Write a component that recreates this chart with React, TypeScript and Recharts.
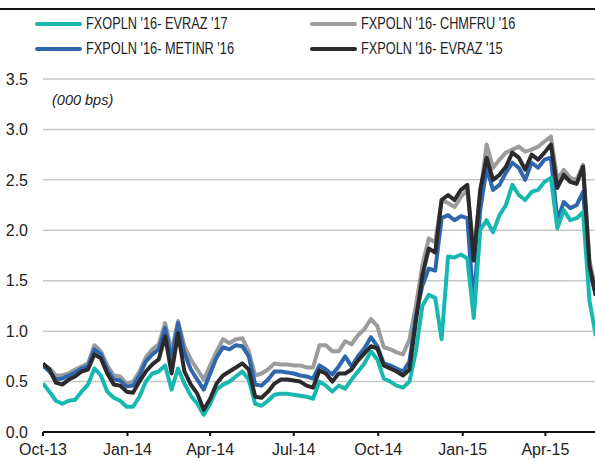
import { LineChart, Line, XAxis, YAxis, CartesianGrid } from 'recharts';

// weekly observations starting 1 Oct 2013 (x = days since start)
const weekCount = 87;
const days = Array.from({ length: weekCount }, (_, i) => i * 7);

const tickDays = [0, 92, 182, 273, 365, 457, 547];
const tickLabels = ['Oct-13', 'Jan-14', 'Apr-14', 'Jul-14', 'Oct-14', 'Jan-15', 'Apr-15'];
const yTicks = [0, 0.5, 1, 1.5, 2, 2.5, 3, 3.5];

const evraz17 = [
  0.48, 0.40, 0.31, 0.28, 0.31, 0.32, 0.40, 0.47, 0.63, 0.56,
  0.40, 0.34, 0.31, 0.25, 0.25, 0.35, 0.50, 0.58, 0.60, 0.66,
  0.42, 0.63, 0.48, 0.36, 0.28, 0.17, 0.28, 0.42, 0.47, 0.50,
  0.55, 0.60, 0.52, 0.28, 0.26, 0.31, 0.37, 0.38, 0.38, 0.37,
  0.36, 0.35, 0.33, 0.50, 0.46, 0.40, 0.46, 0.43, 0.52, 0.60,
  0.68, 0.80, 0.72, 0.53, 0.50, 0.46, 0.44, 0.50, 0.80, 1.25,
  1.36, 1.33, 0.92, 1.74, 1.73, 1.76, 1.72, 1.13, 2.00, 2.10,
  1.98, 2.15, 2.25, 2.45, 2.35, 2.30, 2.38, 2.40, 2.48, 2.52,
  2.02, 2.20, 2.10, 2.12, 2.18, 1.30, 0.95,
];

const chmfru16 = [
  0.67, 0.63, 0.56, 0.56, 0.58, 0.62, 0.65, 0.68, 0.86, 0.80,
  0.66, 0.56, 0.55, 0.48, 0.50, 0.60, 0.74, 0.82, 0.87, 1.08,
  0.80, 1.10, 0.85, 0.72, 0.62, 0.52, 0.66, 0.80, 0.92, 0.88,
  0.92, 0.93, 0.80, 0.56, 0.58, 0.62, 0.68, 0.67, 0.67, 0.66,
  0.66, 0.64, 0.64, 0.86, 0.86, 0.80, 0.80, 0.90, 0.87, 0.96,
  1.02, 1.12, 1.05, 0.84, 0.82, 0.79, 0.77, 0.92, 1.25, 1.65,
  1.92, 1.88, 2.30, 2.27, 2.23, 2.33, 2.40, 1.80, 2.35, 2.85,
  2.62, 2.70, 2.77, 2.80, 2.83, 2.78, 2.80, 2.83, 2.88, 2.93,
  2.50, 2.60, 2.52, 2.50, 2.65, 1.70, 1.40,
];

const metinr16 = [
  0.66, 0.60, 0.52, 0.53, 0.56, 0.59, 0.63, 0.65, 0.82, 0.77,
  0.62, 0.52, 0.51, 0.45, 0.46, 0.56, 0.70, 0.77, 0.82, 1.03,
  0.72, 1.08, 0.78, 0.62, 0.52, 0.42, 0.58, 0.74, 0.84, 0.82,
  0.86, 0.85, 0.75, 0.47, 0.46, 0.52, 0.60, 0.60, 0.59, 0.58,
  0.56, 0.55, 0.53, 0.66, 0.62, 0.57, 0.65, 0.75, 0.65, 0.75,
  0.83, 0.94, 0.85, 0.68, 0.66, 0.63, 0.60, 0.70, 1.15, 1.45,
  1.62, 1.60, 2.12, 2.15, 2.10, 2.14, 2.12, 1.25, 2.20, 2.62,
  2.40, 2.45, 2.57, 2.67, 2.62, 2.50, 2.67, 2.62, 2.70, 2.72,
  2.10, 2.28, 2.22, 2.25, 2.38, 1.60, 1.35,
];

const evraz15 = [
  0.68, 0.62, 0.49, 0.47, 0.52, 0.55, 0.60, 0.62, 0.77, 0.73,
  0.58, 0.47, 0.46, 0.40, 0.39, 0.50, 0.60, 0.67, 0.72, 0.95,
  0.58, 0.98, 0.60, 0.47, 0.38, 0.22, 0.33, 0.48, 0.56, 0.60,
  0.64, 0.68, 0.62, 0.35, 0.34, 0.40, 0.48, 0.52, 0.52, 0.51,
  0.50, 0.46, 0.44, 0.61, 0.58, 0.50, 0.58, 0.58, 0.62, 0.71,
  0.78, 0.85, 0.83, 0.66, 0.63, 0.60, 0.56, 0.62, 1.10, 1.55,
  1.82, 1.78, 2.30, 2.35, 2.30, 2.40, 2.45, 1.70, 2.40, 2.72,
  2.50, 2.55, 2.63, 2.77, 2.72, 2.60, 2.75, 2.70, 2.77, 2.85,
  2.42, 2.55, 2.48, 2.46, 2.63, 1.65, 1.35,
];

const series = [
  { key: 'evraz17', name: "FXOPLN '16- EVRAZ '17", color: '#17b8af' },
  { key: 'chmfru16', name: "FXPOLN '16- CHMFRU '16", color: '#9c9c9c' },
  { key: 'metinr16', name: "FXPOLN '16- METINR '16", color: '#2f67ae' },
  { key: 'evraz15', name: "FXPOLN '16- EVRAZ '15", color: '#2b2b2e' },
];

const data = days.map((day, i) => ({
  day,
  evraz17: evraz17[i],
  chmfru16: chmfru16[i],
  metinr16: metinr16[i],
  evraz15: evraz15[i],
}));

const axisTick = { fontSize: 16, fill: '#222', fontFamily: 'Liberation Sans, Arial, sans-serif' };

const LegendItem = ({ name, color, left, top }: { name: string; color: string; left: number; top: number }) => (
  <div style={{ position: 'absolute', left, top, height: 20, display: 'flex', alignItems: 'center' }}>
    <div style={{ width: 47, height: 4, borderRadius: 2, background: color }} />
    <span
      style={{
        marginLeft: 4,
        fontSize: 17,
        color: '#222',
        fontFamily: 'Liberation Sans, Arial, sans-serif',
        whiteSpace: 'nowrap',
        display: 'inline-block',
        transform: 'scaleX(0.75)',
        transformOrigin: 'left center',
      }}
    >
      {name}
    </span>
  </div>
);

const App = () => {
  // draw order: gray, blue, teal, black on top
  const drawOrder = [series[1], series[2], series[0], series[3]];
  return (
    <div style={{ position: 'absolute', left: 0, top: 0, width: 595, height: 461, background: '#fff', overflow: 'hidden' }}>
      <div style={{ position: 'absolute', left: 0, top: 8, width: 595, height: 1.5, background: '#111' }} />
      <LegendItem name={series[0].name} color={series[0].color} left={35} top={14} />
      <LegendItem name={series[1].name} color={series[1].color} left={310} top={14} />
      <LegendItem name={series[2].name} color={series[2].color} left={35} top={39} />
      <LegendItem name={series[3].name} color={series[3].color} left={310} top={39} />
      <div
        style={{
          position: 'absolute',
          left: 52,
          top: 92,
          fontSize: 14.5,
          fontStyle: 'italic',
          color: '#222',
          fontFamily: 'Liberation Sans, Arial, sans-serif',
        }}
      >
        (000 bps)
      </div>
      <LineChart
        width={595}
        height={461}
        data={data}
        margin={{ top: 79, right: 0, bottom: 0, left: 0 }}
        style={{ position: 'absolute', left: 0, top: 0 }}
      >
        <CartesianGrid vertical={false} stroke="#c5c8c8" strokeWidth={1.5} horizontalValues={[0.5, 1, 1.5, 2, 2.5, 3, 3.5]} />
        <XAxis
          dataKey="day"
          type="number"
          domain={[0, 601]}
          allowDataOverflow
          ticks={tickDays}
          tickFormatter={(v: number) => tickLabels[tickDays.indexOf(v)] ?? ''}
          tick={axisTick}
          height={29}
          tickSize={4}
          tickMargin={8}
          stroke="#111"
          strokeWidth={2}
          interval={0}
        />
        <YAxis
          domain={[0, 3.5]}
          ticks={yTicks}
          tickFormatter={(v: number) => v.toFixed(1)}
          tick={axisTick}
          width={43}
          axisLine={false}
          tickLine={false}
          tickSize={0}
          tickMargin={15}
          interval={0}
        />
        {drawOrder.map((s) => (
          <Line
            key={s.key}
            type="linear"
            dataKey={s.key}
            name={s.name}
            stroke={s.color}
            strokeWidth={4}
            strokeLinejoin="round"
            dot={false}
            isAnimationActive={false}
          />
        ))}
      </LineChart>
    </div>
  );
};

export default App;
